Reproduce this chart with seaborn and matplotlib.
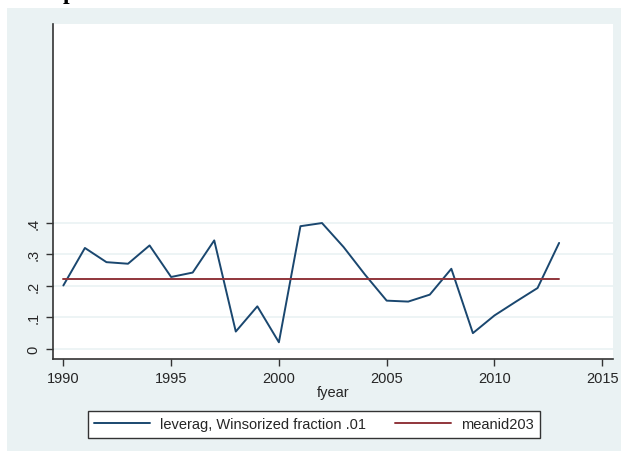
import matplotlib
matplotlib.use("Agg")
import matplotlib.pyplot as plt
import seaborn as sns
import pandas as pd
from matplotlib.patches import Rectangle

years = [1990, 1991, 1992, 1993, 1994, 1995, 1996, 1997, 1998, 1999, 2000, 2001,
         2002, 2003, 2004, 2005, 2006, 2007, 2008, 2009, 2010, 2011, 2012, 2013]
leverag = [0.201, 0.320, 0.275, 0.270, 0.328, 0.228, 0.242, 0.344, 0.055, 0.135,
           0.021, 0.389, 0.399, 0.323, 0.235, 0.153, 0.150, 0.172, 0.254, 0.050,
           0.106, 0.150, 0.193, 0.336]
meanid203 = [0.222] * len(years)
ytick_vals = [0, 0.1, 0.2, 0.3, 0.4]
ytick_labels = ["0", ".1", ".2", ".3", ".4"]
xtick_vals = [1990, 1995, 2000, 2005, 2010, 2015]

sns.set_style("white")
plt.rcParams["font.family"] = ["Liberation Sans", "DejaVu Sans"]

W, H = 621, 452
fig = plt.figure(figsize=(W / 100, H / 100), dpi=100)
fig.patch.set_facecolor("white")
bg = Rectangle((7 / W, 0), 1 - 7 / W, 1 - 9 / H, transform=fig.transFigure,
               facecolor="#EAF2F3", edgecolor="none", zorder=-10)
fig.patches.append(bg)

# partially visible title glyph at the top edge
fig.text(63 / W, 1 + 1 / H, "p", fontsize=17, fontweight="bold",
         family="Liberation Serif", va="baseline", ha="left", color="black")

ax = fig.add_axes([53 / W, (H - 360) / H, (613 - 53) / W, (360 - 25) / H])
ax.set_zorder(1)
ax.set_facecolor("white")

df = pd.DataFrame({"fyear": years, "leverag": leverag, "meanid203": meanid203})
sns.lineplot(data=df, x="fyear", y="leverag", ax=ax, color="#1a476f", lw=1.4,
             label="leverag, Winsorized fraction .01")
sns.lineplot(data=df, x="fyear", y="meanid203", ax=ax, color="#90353b", lw=1.4,
             label="meanid203")

ax.set_xlim(1989.52, 2015.5)
ax.set_ylim(-0.032, 1.03)
ax.set_yticks(ytick_vals)
ax.set_yticklabels(ytick_labels, rotation=90, va="center")
ax.set_xticks(xtick_vals)
ax.tick_params(axis="both", direction="out", length=5, width=1, color="#333333",
               labelsize=10.5, pad=4, left=True, bottom=True)
for yv in ytick_vals:
    ax.axhline(yv, color="#EAF2F3", lw=1.2, zorder=0)
for s in ["top", "right"]:
    ax.spines[s].set_visible(False)
for s in ["left", "bottom"]:
    ax.spines[s].set_color("#333333")
    ax.spines[s].set_linewidth(1.2)
ax.set_xlabel("fyear", fontsize=10.5, labelpad=0)
ax.set_ylabel("")

handles, labels = ax.get_legend_handles_labels()
ax.get_legend().remove()
leg = fig.legend(handles, labels, loc="center", bbox_to_anchor=(314 / W, 1 - 425.5 / H),
                 ncol=2, fontsize=10.5, frameon=True, fancybox=False,
                 handlelength=3.8, handletextpad=0.7, columnspacing=2.0,
                 borderpad=0.45, edgecolor="#333333", framealpha=1)
leg.get_frame().set_linewidth(1.0)

fig.savefig("out.png", dpi=100)
